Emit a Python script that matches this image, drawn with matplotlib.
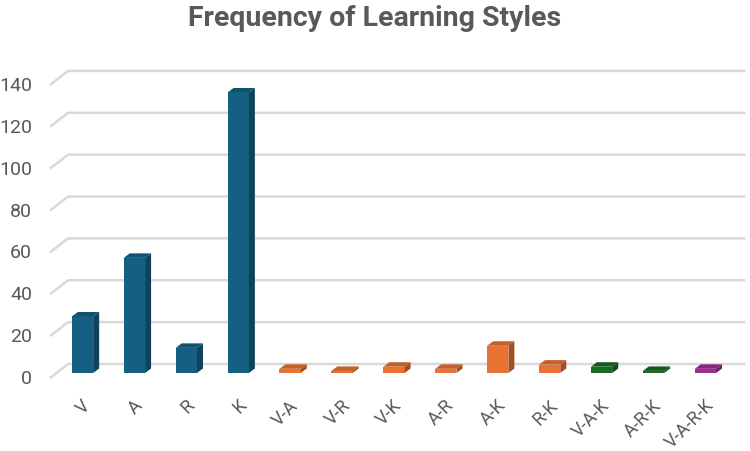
import matplotlib.pyplot as plt
from matplotlib.patches import Polygon
import matplotlib.colors as mcolors

categories = ['V', 'A', 'R', 'K', 'V-A', 'V-R', 'V-K', 'A-R', 'A-K', 'R-K', 'V-A-K', 'A-R-K', 'V-A-R-K']
counts = [27, 55, 12, 134, 2, 1, 3, 2, 13, 4, 3, 1, 2]
groups = ['single'] * 4 + ['pair'] * 6 + ['triple'] * 2 + ['quad']
group_colors = {'single': '#156082', 'pair': '#E97132', 'triple': '#196B24', 'quad': '#A02B93'}
y_ticks = [0, 20, 40, 60, 80, 100, 120, 140]

TEXT = '#595959'
GRID = '#d9d9d9'

plt.rcParams['font.family'] = ['Roboto', 'DejaVu Sans']


def shade(color, f):
    r, g, b = mcolors.to_rgb(color)
    return (r * f, g * f, b * f)


fig = plt.figure(figsize=(7.5, 4.52), dpi=100)
# axes spans pixel x 40..750, y 60..400
ax = fig.add_axes([40 / 750, 52 / 452, 710 / 750, 340 / 452])
ax.set_xlim(-0.819, 12.86)
ax.set_ylim(-12.42, 150.0)
ax.axis('off')

# depth offsets (data units)
bw = 0.41
ddx, ddy = 0.116, 2.15
back_x0, front_x0, right_x = -0.279, -0.626, 12.77
back_dy, front_dy = 4.3, -2.4

for v in y_ticks:
    ax.plot([front_x0, back_x0, right_x], [v + front_dy, v + back_dy, v + back_dy],
            color=GRID, lw=1.8, zorder=1, solid_capstyle='butt')
    ax.text(-0.973, v + front_dy, str(v), ha='right', va='center',
            fontsize=14, color=TEXT, clip_on=False)

xs = list(range(len(categories)))
colors = [group_colors[g] for g in groups]
ax.bar(xs, counts, width=bw, color=colors, zorder=3)
for x, h, c in zip(xs, counts, colors):
    l, r = x - bw / 2, x + bw / 2
    top = Polygon([(l, h), (r, h), (r + ddx, h + ddy), (l + ddx, h + ddy)],
                  closed=True, facecolor=shade(c, 0.85), edgecolor='none', zorder=3)
    side = Polygon([(r, 0), (r + ddx, ddy), (r + ddx, h + ddy), (r, h)],
                   closed=True, facecolor=shade(c, 0.7), edgecolor='none', zorder=3)
    ax.add_patch(top)
    ax.add_patch(side)

for x, lab in zip(xs, categories):
    ax.text(x - 0.02, -10.8, lab, rotation=45, ha='right', va='top',
            rotation_mode='anchor', fontsize=13, color=TEXT, clip_on=False)

fig.text(0.5, 1 - 19 / 452, 'Frequency of Learning Styles', ha='center', va='center',
         fontsize=20.5, fontweight='bold', color=TEXT)

fig.savefig('out.png', dpi=100)
